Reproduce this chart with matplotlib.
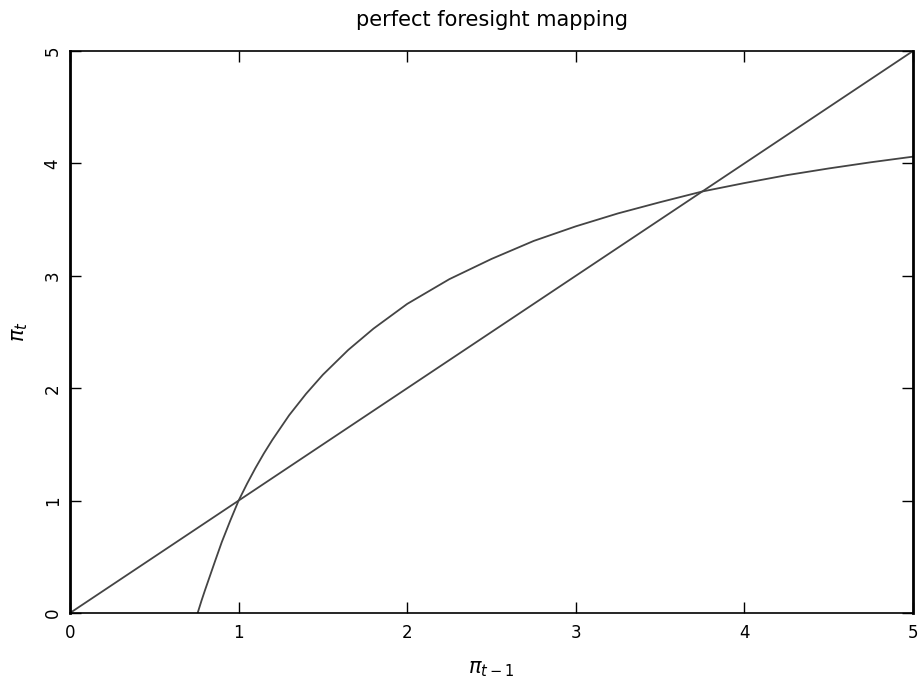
import matplotlib
matplotlib.use("Agg")
import matplotlib.pyplot as plt

# 45-degree line
diag_x = [0, 5]
diag_y = [0, 5]

# perfect foresight mapping curve
curve_x = [0.757, 0.78, 0.80, 0.83, 0.86, 0.90, 0.95, 1.00, 1.05, 1.10,
           1.15, 1.20, 1.30, 1.40, 1.50, 1.65, 1.80, 2.00, 2.25, 2.50,
           2.75, 3.00, 3.25, 3.50, 3.75, 4.00, 4.25, 4.50, 4.75, 5.00]
curve_y = [0.00, 0.11, 0.20, 0.33, 0.46, 0.63, 0.82, 1.00, 1.15, 1.29,
           1.42, 1.54, 1.76, 1.95, 2.12, 2.34, 2.53, 2.75, 2.97, 3.15,
           3.31, 3.44, 3.555, 3.655, 3.75, 3.825, 3.895, 3.955, 4.01, 4.06]

ticks = [0, 1, 2, 3, 4, 5]
tick_labels = ["0", "1", "2", "3", "4", "5"]

fig = plt.figure(figsize=(9.2, 6.91), dpi=100)
ax = fig.add_axes([0.0761, 0.1129, 0.9163, 0.8133])

line_color = "#444444"
ax.plot(diag_x, diag_y, color=line_color, lw=1.3)
ax.plot(curve_x, curve_y, color=line_color, lw=1.3)

ax.set_xlim(0, 5)
ax.set_ylim(0, 5)
ax.set_xticks(ticks)
ax.set_xticklabels(tick_labels)
ax.set_yticks(ticks)
ax.set_yticklabels(tick_labels, rotation=90, va="center")

ax.tick_params(direction="in", length=8, width=1, top=True, right=True,
               labelsize=12, pad=8)
ax.tick_params(axis="y", pad=6)

for side in ["left", "right"]:
    ax.spines[side].set_linewidth(2.0)
for side in ["top", "bottom"]:
    ax.spines[side].set_linewidth(1.2)

ax.set_title("perfect foresight mapping", fontsize=15, pad=18)
ax.set_xlabel(r"$\pi_{t-1}$", fontsize=15, labelpad=12)
ax.set_ylabel(r"$\pi_t$", fontsize=15, labelpad=10)

fig.savefig("out.png", dpi=100)
